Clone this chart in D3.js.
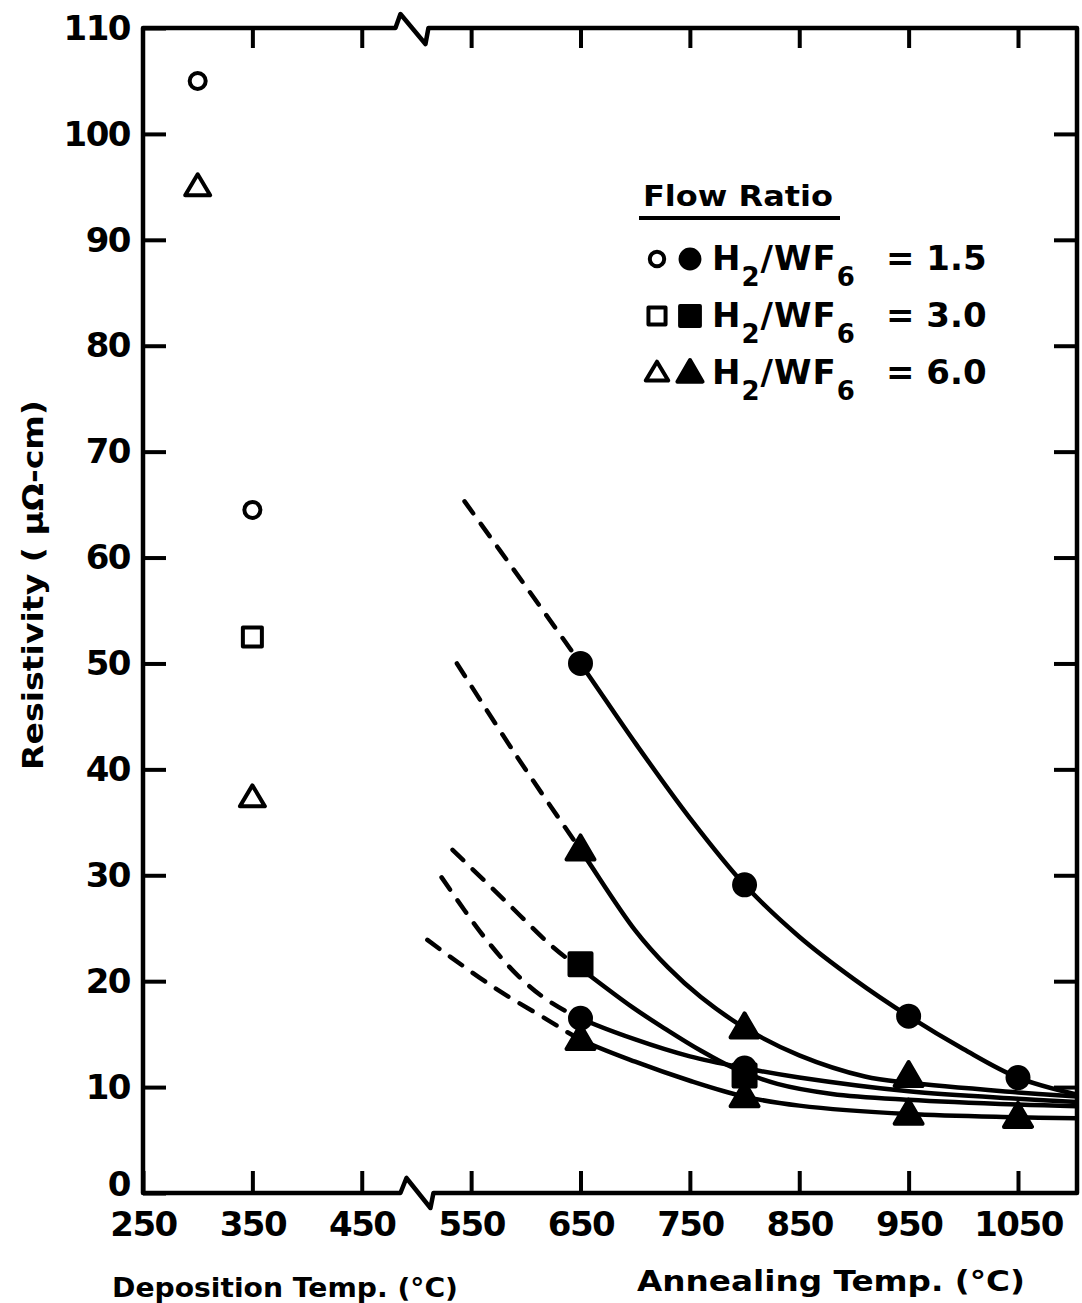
<!DOCTYPE html>
<html>
<head>
<meta charset="utf-8">
<script src="https://cdn.jsdelivr.net/npm/d3@7"></script>
<style>
  html, body { margin: 0; padding: 0; background: #fff; }
  svg { display: block; }
  text { font-family: "DejaVu Sans", sans-serif; font-weight: bold; fill: #000; }
</style>
</head>
<body>
<svg id="chart" width="1082" height="1303"></svg>
<script>
// ---------- DATA ----------
const xTickValues = [250, 350, 450, 550, 650, 750, 850, 950, 1050];
const yTickValues = [0, 10, 20, 30, 40, 50, 60, 70, 80, 90, 100, 110];

// Deposition (open markers)
const depCircleT = [300, 350];
const depCircleV = [105, 64.5];
const depSquareT = [350];
const depSquareV = [52.5];
const depTriangleT = [300, 350];
const depTriangleV = [95, 37.3];

// Annealing fitted curves (dashed below 650 °C, solid above)
const curveA_T = [544, 597, 650, 700, 750, 800, 850, 900, 950, 1000, 1050, 1104];
const curveA_V = [65.3, 57.7, 50.0, 42.5, 35.4, 29.1, 24.2, 20.2, 16.7, 13.6, 10.9, 9.3];
const curveB_T = [537, 590, 650, 700, 730, 760, 800, 850, 910, 950, 1050, 1104];
const curveB_V = [50.0, 41.5, 32.4, 24.8, 21.3, 18.5, 15.6, 13.0, 11.0, 10.4, 9.5, 9.1];
const curveC_T = [533, 580, 625, 650, 698, 729, 759, 790, 830, 880, 950, 1050, 1104];
const curveC_V = [32.4, 27.7, 23.2, 21.2, 17.5, 15.4, 13.5, 11.8, 10.3, 9.35, 8.8, 8.35, 8.2];
const curveD_T = [523, 561, 593, 620, 650, 700, 750, 800, 850, 950, 1050, 1104];
const curveD_V = [29.8, 24.3, 20.5, 18.2, 16.5, 14.5, 12.9, 11.8, 10.9, 9.6, 8.9, 8.6];
const curveE_T = [510, 531, 574, 619, 650, 700, 750, 800, 850, 950, 1050, 1104];
const curveE_V = [23.9, 22.3, 19.2, 16.4, 14.5, 12.4, 10.6, 9.1, 8.25, 7.45, 7.15, 7.05];

// Annealing measured points (filled markers)
const annACircleT = [650, 800, 950, 1050];
const annACircleV = [50.0, 29.1, 16.7, 10.9];
const annBTriT = [650, 800, 950];
const annBTriV = [32.4, 15.6, 11.0];
const annCSquareT = [650, 800];
const annCSquareV = [21.6, 11.1];
const annDCircleT = [650, 800];
const annDCircleV = [16.5, 11.8];
const annETriT = [650, 800, 950, 1050];
const annETriV = [14.5, 9.1, 7.45, 7.15];

const legendTitle = "Flow Ratio";
const legendRatios = ["1.5", "3.0", "6.0"];
const legendShapes = ["circle", "square", "triangle"];

const xTitleLeft = "Deposition Temp. (°C)";
const xTitleRight = "Annealing Temp. (°C)";
const yTitle = "Resistivity ( μΩ-cm)";

// ---------- LAYOUT ----------
const svg = d3.select("#chart");
const x = d3.scaleLinear().domain([250, 1050]).range([143, 1018]);
const y = d3.scaleLinear().domain([0, 110]).range([1193, 28]);
const pLeft = x(250), pRight = 1077, pTop = y(110), pBottom = y(0);
const breakT = 500; // axis break position (°C)

const AX = 4.5;

// clip paths
const defs = svg.append("defs");
defs.append("clipPath").attr("id", "clipDash").append("rect")
  .attr("x", pLeft).attr("y", pTop).attr("width", x(650) - pLeft).attr("height", pBottom - pTop);
defs.append("clipPath").attr("id", "clipSolid").append("rect")
  .attr("x", x(650)).attr("y", pTop).attr("width", pRight - x(650)).attr("height", pBottom - pTop);

// ---------- FRAME WITH BREAKS ----------
const bx = x(breakT);
function framePath() {
  const p = d3.path();
  p.moveTo(pLeft, pTop);
  p.lineTo(bx - 21, pTop);
  p.lineTo(bx - 16, pTop - 14);
  p.lineTo(bx + 9, pTop + 16);
  p.lineTo(bx + 12, pTop);
  p.lineTo(pRight, pTop);
  p.lineTo(pRight, pBottom);
  p.lineTo(bx + 17, pBottom);
  p.lineTo(bx + 14, pBottom + 15);
  p.lineTo(bx - 10, pBottom - 15);
  p.lineTo(bx - 16, pBottom);
  p.lineTo(pLeft, pBottom);
  p.closePath();
  return p.toString();
}
svg.append("path").attr("d", framePath())
  .attr("fill", "none").attr("stroke", "#000").attr("stroke-width", AX)
  .attr("stroke-linejoin", "round");

// left axis: inward ticks and labels
const yAxisL = d3.axisLeft(y).tickValues(yTickValues).tickSize(-23).tickPadding(13)
  .tickFormat(d3.format("d"));
const gL = svg.append("g").attr("transform", `translate(${pLeft},0)`).call(yAxisL);
gL.select(".domain").remove();
gL.selectAll(".tick line").attr("stroke", "#000").attr("stroke-width", 4);
gL.selectAll(".tick text").style("font-size", "34px").style("font-family", "DejaVu Sans")
  .style("font-weight", "bold").attr("dy", d => d === 0 ? "0.08em" : "0.33em")
  .attr("letter-spacing", "-1.5");

// right axis: inward ticks only
const yAxisR = d3.axisRight(y).tickValues(yTickValues.slice(1, -1)).tickSize(-23).tickFormat("");
const gR = svg.append("g").attr("transform", `translate(${pRight},0)`).call(yAxisR);
gR.select(".domain").remove();
gR.selectAll(".tick line").attr("stroke", "#000").attr("stroke-width", 4);

// bottom axis: inward ticks with labels
const xAxisB = d3.axisBottom(x).tickValues(xTickValues).tickSize(-22).tickPadding(19)
  .tickFormat(d3.format("d"));
const gB = svg.append("g").attr("transform", `translate(0,${pBottom})`).call(xAxisB);
gB.select(".domain").remove();
gB.selectAll(".tick line").attr("stroke", "#000").attr("stroke-width", 4);
gB.selectAll(".tick text").style("font-size", "34px").style("font-family", "DejaVu Sans")
  .style("font-weight", "bold").attr("letter-spacing", "-1.5");

// top axis: inward ticks only
const xAxisT = d3.axisTop(x).tickValues(xTickValues.slice(1)).tickSize(-20).tickFormat("");
const gT = svg.append("g").attr("transform", `translate(0,${pTop})`).call(xAxisT);
gT.select(".domain").remove();
gT.selectAll(".tick line").attr("stroke", "#000").attr("stroke-width", 4);

// ---------- CURVES ----------
const line = d3.line().x(d => x(d[0])).y(d => y(d[1])).curve(d3.curveCatmullRom.alpha(0.5));
const curves = [
  [curveA_T, curveA_V], [curveB_T, curveB_V], [curveC_T, curveC_V],
  [curveD_T, curveD_V], [curveE_T, curveE_V]
];
curves.forEach(([T, V]) => {
  const pts = T.map((t, i) => [t, V[i]]);
  svg.append("path").attr("d", line(pts)).attr("clip-path", "url(#clipDash)")
    .attr("fill", "none").attr("stroke", "#000").attr("stroke-width", 4.5)
    .attr("stroke-dasharray", "15,13").attr("stroke-linecap", "round");
  svg.append("path").attr("d", line(pts)).attr("clip-path", "url(#clipSolid)")
    .attr("fill", "none").attr("stroke", "#000").attr("stroke-width", 4.5)
    .attr("stroke-linecap", "round");
});

// ---------- MARKERS ----------
function marker(g, shape, filled, cx, cy, scale = 1) {
  const sw = 4;
  if (shape === "circle") {
    const r = (filled ? 10.5 : 8) * scale;
    g.append("circle").attr("cx", cx).attr("cy", cy).attr("r", r)
      .attr("fill", filled ? "#000" : "#fff").attr("stroke", "#000").attr("stroke-width", sw);
  } else if (shape === "square") {
    const s = (filled ? 22 : 19) * scale;
    g.append("rect").attr("x", cx - s / 2).attr("y", cy - s / 2).attr("width", s).attr("height", s)
      .attr("fill", filled ? "#000" : "#fff").attr("stroke", "#000").attr("stroke-width", sw)
      .attr("stroke-linejoin", "round");
  } else {
    const w = (filled ? 28 : 25) * scale, h = (filled ? 24 : 21) * scale;
    const pts = [[cx, cy - h * 0.6], [cx + w / 2, cy + h * 0.4], [cx - w / 2, cy + h * 0.4]];
    g.append("path").attr("d", d3.line()(pts) + "Z")
      .attr("fill", filled ? "#000" : "#fff").attr("stroke", "#000").attr("stroke-width", sw)
      .attr("stroke-linejoin", "round");
  }
}
const gm = svg.append("g");
depCircleT.forEach((t, i) => marker(gm, "circle", false, x(t), y(depCircleV[i])));
depSquareT.forEach((t, i) => marker(gm, "square", false, x(t), y(depSquareV[i])));
depTriangleT.forEach((t, i) => marker(gm, "triangle", false, x(t), y(depTriangleV[i])));
annACircleT.forEach((t, i) => marker(gm, "circle", true, x(t), y(annACircleV[i])));
annBTriT.forEach((t, i) => marker(gm, "triangle", true, x(t), y(annBTriV[i])));
annCSquareT.forEach((t, i) => marker(gm, "square", true, x(t), y(annCSquareV[i])));
annDCircleT.forEach((t, i) => marker(gm, "circle", true, x(t), y(annDCircleV[i])));
annETriT.forEach((t, i) => marker(gm, "triangle", true, x(t), y(annETriV[i])));

// ---------- LEGEND ----------
const lg = svg.append("g");
lg.append("text").attr("x", 643).attr("y", 206).style("font-size", "28px")
  .attr("textLength", 190).attr("lengthAdjust", "spacingAndGlyphs").text(legendTitle);
lg.append("line").attr("x1", 639).attr("x2", 840).attr("y1", 218).attr("y2", 218)
  .attr("stroke", "#000").attr("stroke-width", 4);
legendRatios.forEach((r, i) => {
  const by = 270 + i * 57;
  marker(lg, legendShapes[i], false, 657, by - 11, 0.9);
  marker(lg, legendShapes[i], true, 690, by - 11, 0.9);
  const t = lg.append("text").attr("x", 712).attr("y", by).style("font-size", "34px")
    .attr("letter-spacing", "1");
  t.append("tspan").text("H");
  t.append("tspan").attr("dy", 16).style("font-size", "26px").text("2");
  t.append("tspan").attr("dy", -16).text("/WF");
  t.append("tspan").attr("dy", 16).style("font-size", "26px").text("6");
  lg.append("text").attr("x", 886).attr("y", by).style("font-size", "34px")
    .text("= " + r);
});

// ---------- TITLES ----------
svg.append("text").attr("x", 112).attr("y", 1297).style("font-size", "27px")
  .attr("textLength", 346).attr("lengthAdjust", "spacingAndGlyphs").text(xTitleLeft);
svg.append("text").attr("x", 637).attr("y", 1291).style("font-size", "28px")
  .attr("textLength", 388).attr("lengthAdjust", "spacingAndGlyphs").text(xTitleRight);
svg.append("text").attr("transform", "translate(43,585) rotate(-90)")
  .attr("text-anchor", "middle").style("font-size", "28px")
  .attr("textLength", 370).attr("lengthAdjust", "spacingAndGlyphs").text(yTitle);
</script>
</body>
</html>
